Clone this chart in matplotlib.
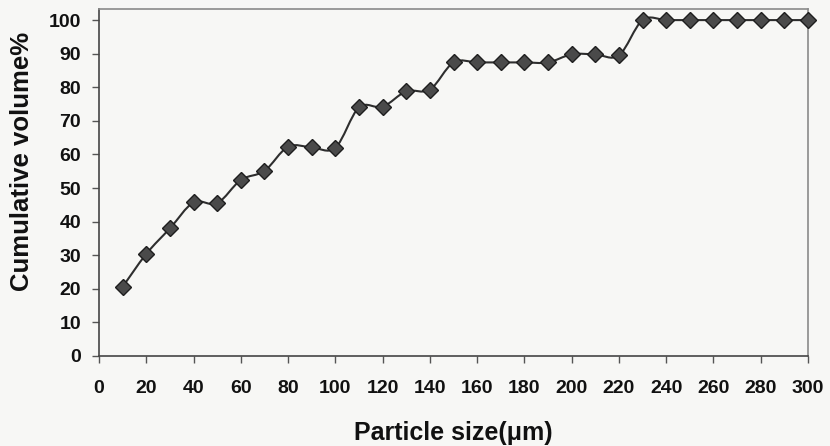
import numpy as np
import matplotlib
matplotlib.use("Agg")
import matplotlib.pyplot as plt
from matplotlib.path import Path
from matplotlib.patches import PathPatch

# Particle size classes (µm) and cumulative volume (%)
particle_size = [10, 20, 30, 40, 50, 60, 70, 80, 90, 100,
                 110, 120, 130, 140, 150, 160, 170, 180, 190, 200,
                 210, 220, 230, 240, 250, 260, 270, 280, 290, 300]
cumulative_volume = [20.6, 30.4, 38.0, 45.7, 45.5, 52.4, 55.1, 62.3, 62.1, 62.0,
                     74.0, 74.2, 78.8, 79.3, 87.4, 87.4, 87.4, 87.4, 87.4, 89.8,
                     89.8, 89.5, 100.0, 100.0, 100.0, 100.0, 100.0, 100.0, 100.0, 100.0]
x_ticks = list(range(0, 301, 20))
y_ticks = list(range(0, 101, 10))

bg = "#f7f7f5"
line_col = "#2e2e2e"
text_col = "#111111"
font = ["Liberation Sans", "DejaVu Sans"]

fig = plt.figure(figsize=(8.3, 4.46), dpi=100, facecolor=bg)
ax = fig.add_axes([0.1193, 0.2018, 0.8542, 0.778])
ax.set_facecolor(bg)


def smooth_path(x, y):
    """Cubic Bezier path through the points (Catmull-Rom style smoothing)."""
    x = np.asarray(x, float)
    y = np.asarray(y, float)
    n = len(x)
    verts = [(x[0], y[0])]
    codes = [Path.MOVETO]
    for i in range(n - 1):
        p0 = np.array([x[max(i - 1, 0)], y[max(i - 1, 0)]])
        p1 = np.array([x[i], y[i]])
        p2 = np.array([x[i + 1], y[i + 1]])
        p3 = np.array([x[min(i + 2, n - 1)], y[min(i + 2, n - 1)]])
        c1 = p1 + (p2 - p0) / 6.0
        c2 = p2 - (p3 - p1) / 6.0
        verts += [tuple(c1), tuple(c2), tuple(p2)]
        codes += [Path.CURVE4] * 3
    return Path(verts, codes)


ax.add_patch(PathPatch(smooth_path(particle_size, cumulative_volume),
                       facecolor="none", edgecolor=line_col, lw=1.5, zorder=2))
ax.plot(particle_size, cumulative_volume, linestyle="none", marker="D",
        markersize=8.5, markerfacecolor="#4a4a4a", markeredgecolor="#1e1e1e",
        markeredgewidth=1.0, zorder=3, clip_on=False)

ax.set_xlim(0, 300)
ax.set_ylim(0, 103.3)
ax.set_xticks(x_ticks)
ax.set_yticks(y_ticks)

for s in ("left", "bottom"):
    ax.spines[s].set_color("#454545")
    ax.spines[s].set_linewidth(1.2)
for s in ("top", "right"):
    ax.spines[s].set_color("#8a8a8a")
    ax.spines[s].set_linewidth(1.2)

ax.tick_params(axis="both", direction="out", length=5, width=1,
               color="#555555", labelsize=14)
ax.tick_params(axis="x", pad=12)
ax.tick_params(axis="y", pad=8)
for lab in ax.get_xticklabels() + ax.get_yticklabels():
    lab.set_fontfamily(font)
    lab.set_fontweight("bold")
    lab.set_color(text_col)

fig.text(0.5464, 0.030, "Particle size(\u03bcm)", fontsize=18, fontweight="bold",
         family=font, color=text_col, ha="center", va="center")
fig.text(0.0265, 0.639, "Cumulative volume%", fontsize=18.5, fontweight="bold",
         family=font, color=text_col, ha="center", va="center", rotation=90)

fig.savefig("out.png", dpi=100, facecolor=bg)
